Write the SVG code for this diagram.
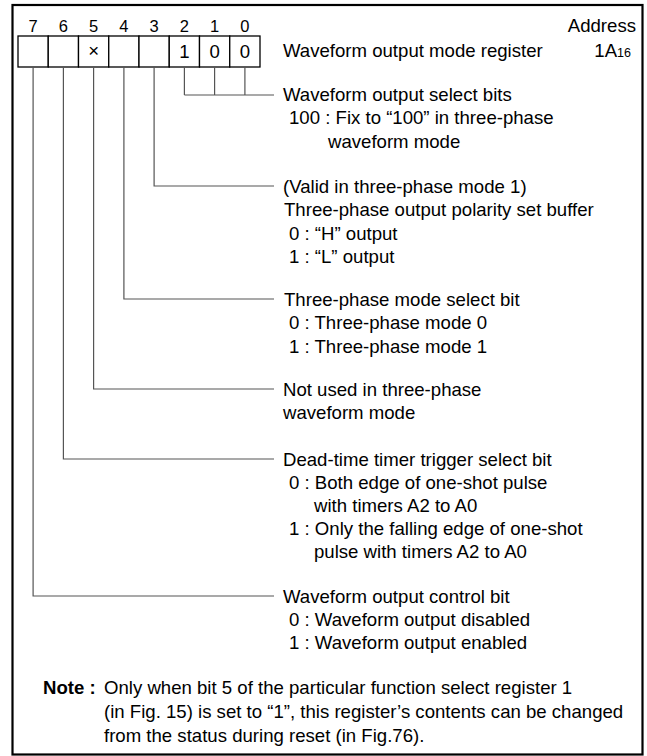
<svg xmlns="http://www.w3.org/2000/svg" width="647" height="756" viewBox="0 0 647 756">
<style>
text{font-family:"Liberation Sans",Arial,sans-serif;font-size:18.6px;fill:#000}
.b{font-weight:bold}
.n{font-size:16.5px}
.c{fill:#fff;stroke:#000;stroke-width:1.3}
.w{fill:none;stroke:#555;stroke-width:1.2}
.m{text-anchor:middle}
</style>
<rect x="12.5" y="5" width="630" height="749.5" fill="#fff" stroke="#000" stroke-width="2.2"/>
<g id="register">
<g class="m n">
<text class="n" x="33.1" y="32">7</text><text class="n" x="63.4" y="32">6</text><text class="n" x="93.6" y="32">5</text><text class="n" x="123.9" y="32">4</text>
<text class="n" x="154.1" y="32">3</text><text class="n" x="184.4" y="32">2</text><text class="n" x="214.6" y="32">1</text><text class="n" x="244.9" y="32">0</text>
</g>
<rect class="c" x="18" y="36" width="30.25" height="31"/>
<rect class="c" x="48.25" y="36" width="30.25" height="31"/>
<rect class="c" x="78.5" y="36" width="30.25" height="31"/>
<rect class="c" x="108.75" y="36" width="30.25" height="31"/>
<rect class="c" x="139" y="36" width="30.25" height="31"/>
<rect class="c" x="169.25" y="36" width="30.25" height="31"/>
<rect class="c" x="199.5" y="36" width="30.25" height="31"/>
<rect class="c" x="229.75" y="36" width="30.25" height="31"/>
<g class="m">
<text x="93.6" y="57" font-size="17" fill="#444">×</text>
<text x="184.4" y="58">1</text><text x="214.6" y="58">0</text><text x="244.9" y="58">0</text>
</g>
<text x="283" y="57">Waveform output mode register</text>
<text x="636" y="32" text-anchor="end">Address</text>
<text x="631" y="57" text-anchor="end">1A<tspan font-size="12.5">16</tspan></text>
</g>
<g id="connectors">
<path class="w" d="M184.4 67V95M214.6 67V95M244.9 67V95M184.4 95H274"/>
<path class="w" d="M154.1 67V186H274"/>
<path class="w" d="M123.9 67V299H274"/>
<path class="w" d="M93.6 67V389H274"/>
<path class="w" d="M63.4 67V459H274"/>
<path class="w" d="M33.1 67V596H274"/>
</g>
<g id="bits210">
<text x="283" y="101">Waveform output select bits</text>
<text x="289" y="124">100 : Fix to “100” in three-phase</text>
<text x="328" y="148">waveform mode</text>
</g>
<g id="bit3">
<text x="283" y="193">(Valid in three-phase mode 1)</text>
<text x="284" y="216">Three-phase output polarity set buffer</text>
<text x="289" y="240">0 : “H” output</text>
<text x="289" y="263">1 : “L” output</text>
</g>
<g id="bit4">
<text x="284" y="306">Three-phase mode select bit</text>
<text x="289" y="329">0 : Three-phase mode 0</text>
<text x="289" y="353">1 : Three-phase mode 1</text>
</g>
<g id="bit5">
<text x="283" y="396">Not used in three-phase</text>
<text x="283" y="419">waveform mode</text>
</g>
<g id="bit6">
<text x="283" y="466">Dead-time timer trigger select bit</text>
<text x="289" y="489">0 : Both edge of one-shot pulse</text>
<text x="314" y="512">with timers A2 to A0</text>
<text x="289" y="535">1 : Only the falling edge of one-shot</text>
<text x="314" y="558">pulse with timers A2 to A0</text>
</g>
<g id="bit7">
<text x="283" y="603">Waveform output control bit</text>
<text x="289" y="626">0 : Waveform output disabled</text>
<text x="289" y="649">1 : Waveform output enabled</text>
</g>
<g id="note">
<text x="43" y="694" class="b">Note :</text>
<text x="104" y="694">Only when bit 5 of the particular function select register 1</text>
<text x="104" y="718">(in Fig. 15) is set to “1”, this register’s contents can be changed</text>
<text x="104" y="742">from the status during reset (in Fig.76).</text>
</g>
</svg>
